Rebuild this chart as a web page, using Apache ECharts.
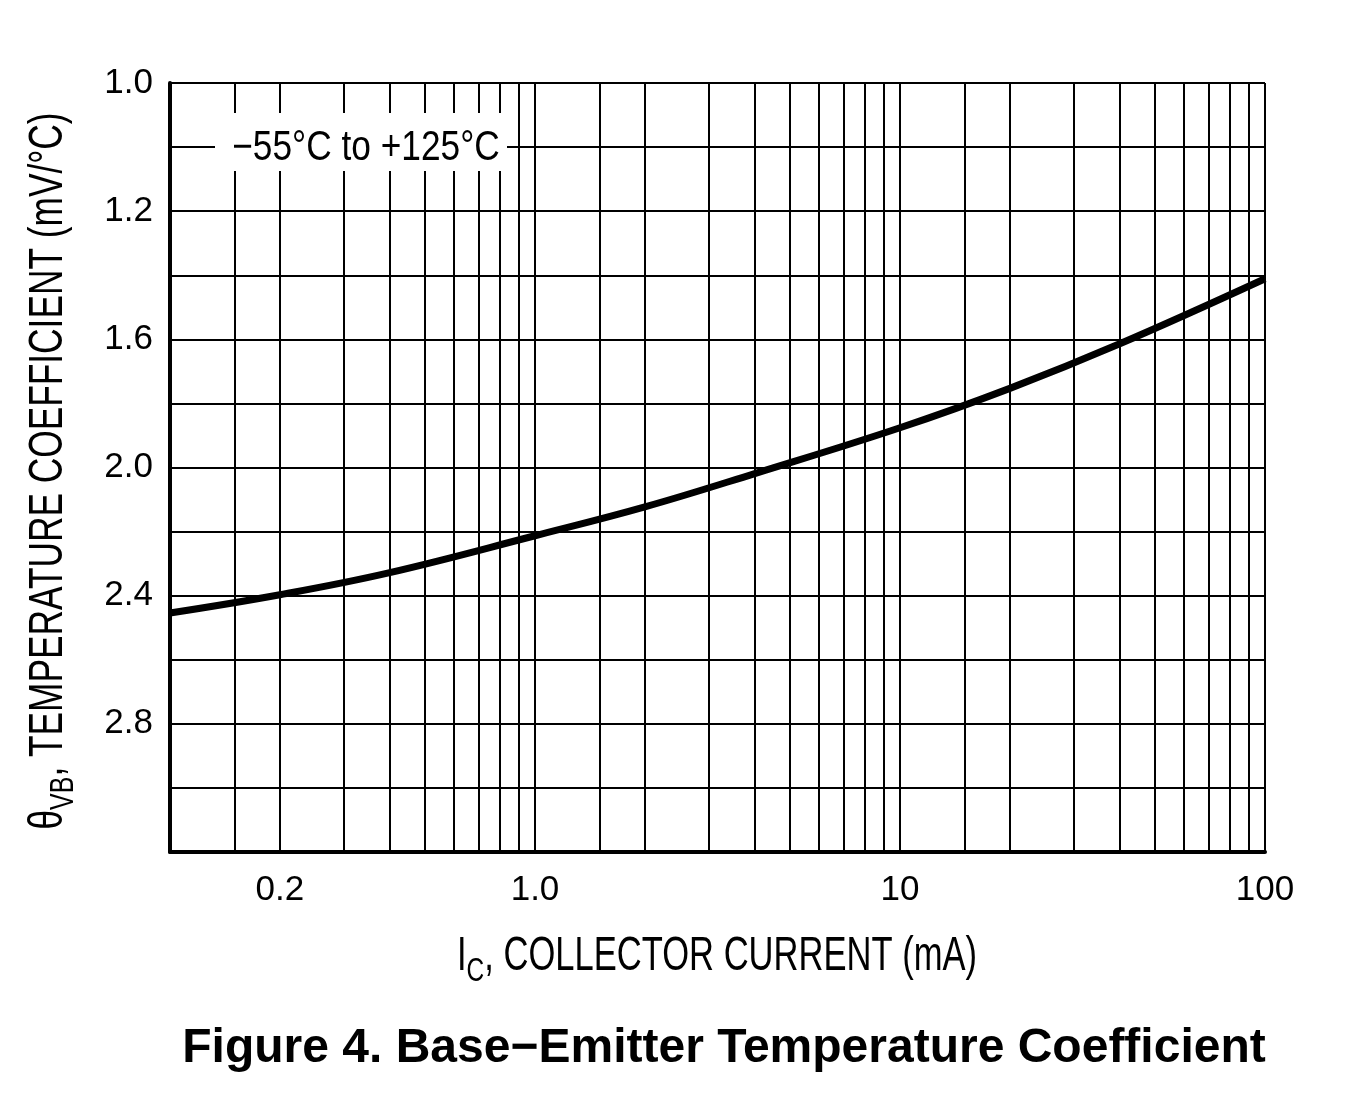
<!DOCTYPE html>
<html>
<head>
<meta charset="utf-8">
<title>Base-Emitter Temperature Coefficient</title>
<script src="https://cdn.jsdelivr.net/npm/echarts@6/dist/echarts.min.js"></script>
<style>
  html, body { margin: 0; padding: 0; background: #fff; }
  #chart { width: 1345px; height: 1115px; }
</style>
</head>
<body>
<div id="chart"></div>
<script>
// Collector current (mA) and temperature coefficient
const currentMA = [0.1, 0.2, 0.4, 1.0, 2, 4, 10, 20, 40, 100];
const tempCoeff = [2.454, 2.397, 2.328, 2.213, 2.123, 2.019, 1.876, 1.753, 1.614, 1.411];

// Vertical grid lines inside each decade
const xGridLines = [0.15, 0.2, 0.3, 0.4, 0.5, 0.6, 0.7, 0.8, 0.9,
                    1.5, 2, 3, 4, 5, 6, 7, 8, 9,
                    15, 20, 30, 40, 50, 60, 70, 80, 90];

// Tick labels as printed on the sheet
const xTickValues = [0.2, 1, 10, 100];
const xTickLabels = ['0.2', '1.0', '10', '100'];
const yTickValues = [0.8, 1.2, 1.6, 2.0, 2.4, 2.8];
const yTickLabels = ['1.0', '1.2', '1.6', '2.0', '2.4', '2.8'];

const xTitle = 'I{sub|C}, COLLECTOR CURRENT (mA)';
const yTitle = '\u03b8{sub|VB}, TEMPERATURE COEFFICIENT (mV/\u00b0C)';
const tempRange = '\u221255\u00b0C to +125\u00b0C';

const chart = echarts.init(document.getElementById('chart'), null, { renderer: 'canvas' });

const lookup = (values, labels, v) => {
    const i = values.findIndex(t => Math.abs(t - v) < 1e-6);
    return i >= 0 ? labels[i] : '';
};

// condensed look: regular sans squeezed horizontally
const nameStyle = text => ({
    text: text,
    align: 'center',
    verticalAlign: 'middle',
    fontFamily: 'Liberation Sans',
    fontSize: 48,
    fill: '#000',
    rich: {
        sub: { fontFamily: 'Liberation Sans', fontSize: 34, fill: '#000', padding: [30, 0, 0, 0] }
    }
});

chart.setOption({
    backgroundColor: '#fff',
    animation: false,
    title: {
        text: 'Figure 4. Base\u2212Emitter Temperature Coefficient',
        left: 719,
        textAlign: 'center',
        top: 1020,
        textStyle: { fontFamily: 'Liberation Sans', fontWeight: 'bold', fontSize: 48, color: '#000' }
    },
    grid: { left: 170, right: 80, top: 83, bottom: 263 },
    xAxis: {
        type: 'log',
        logBase: 10,
        min: 0.1,
        max: 100,
        axisLine: { show: true, lineStyle: { color: '#000', width: 4 } },
        axisTick: { show: false },
        axisLabel: {
            customValues: xTickValues,
            formatter: v => lookup(xTickValues, xTickLabels, v),
            margin: 21,
            fontFamily: 'Liberation Sans', fontSize: 35, color: '#000'
        },
        splitLine: { show: true, lineStyle: { color: '#000', width: 2 } }
    },
    yAxis: {
        type: 'value',
        inverse: true,
        min: 0.8,
        max: 3.2,
        interval: 0.2,
        axisLine: { show: true, lineStyle: { color: '#000', width: 4 } },
        axisTick: { show: false },
        axisLabel: {
            formatter: v => lookup(yTickValues, yTickLabels, v),
            margin: 17,
            fontFamily: 'Liberation Sans', fontSize: 35, color: '#000'
        },
        splitLine: { show: true, lineStyle: { color: '#000', width: 2 } }
    },
    graphic: [
        {
            type: 'rect', z: 100,
            shape: { x: 215, y: 113, width: 292, height: 58 },
            style: { fill: '#fff' }
        },
        {
            type: 'text', z: 101,
            x: 366, y: 148, scaleX: 0.84,
            style: {
                text: tempRange,
                align: 'center', verticalAlign: 'middle',
                fontFamily: 'Liberation Sans', fontSize: 42,
                fill: '#000'
            }
        },
        {
            // x axis title
            type: 'text', z: 101,
            x: 717, y: 957, scaleX: 0.72,
            style: nameStyle(xTitle)
        },
        {
            // y axis title, reads bottom to top
            type: 'text', z: 101,
            x: 49, y: 471, scaleX: 0.735, rotation: Math.PI / 2,
            style: nameStyle(yTitle)
        }
    ],
    series: [{
        type: 'line',
        data: currentMA.map((x, i) => [x, tempCoeff[i]]),
        smooth: 0.4,
        symbol: 'none',
        lineStyle: { color: '#000', width: 7 },
        z: 5,
        markLine: {
            silent: true,
            symbol: ['none', 'none'],
            label: { show: false },
            lineStyle: { color: '#000', width: 2, type: 'solid' },
            data: xGridLines.map(v => ({ xAxis: v }))
        }
    }]
});
</script>
</body>
</html>
